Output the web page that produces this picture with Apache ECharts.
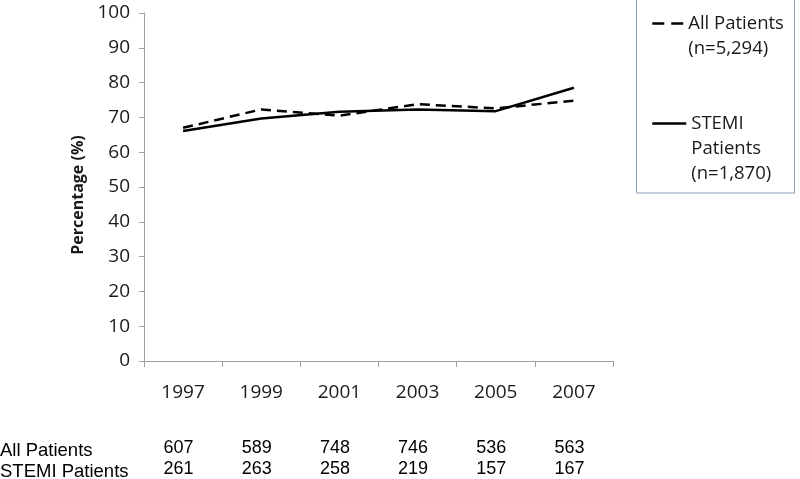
<!DOCTYPE html>
<html>
<head>
<meta charset="utf-8">
<script src="https://cdn.jsdelivr.net/npm/echarts@6/dist/echarts.min.js"></script>
<style>
html,body{margin:0;padding:0;background:#fff;}
#chart{width:800px;height:479px;}
</style>
</head>
<body>
<div id="chart"></div>
<script>
const years = ['1997', '1999', '2001', '2003', '2005', '2007'];
const allPatientsPct = [67.0, 72.3, 70.5, 73.8, 72.6, 74.8];
const stemiPct = [66.1, 69.7, 71.6, 72.3, 71.8, 78.5];
const allPatientsN = [607, 589, 748, 746, 536, 563];
const stemiN = [261, 263, 258, 219, 157, 167];
const rowLabels = ['All Patients', 'STEMI Patients'];
const seriesNames = ['All Patients', 'STEMI Patients'];
const legendTexts = ['\nAll Patients\n(n=5,294)', '\n\nSTEMI\nPatients\n(n=1,870)'];
const yMin = 0, yMax = 100, yStep = 10;

const axisGray = '#a0a0a0';
const textColor = '#1a1a1a';
const uiFont = 'Open Sans';
const tableFont = 'Liberation Sans';

const chart = echarts.init(document.getElementById('chart'), null, {renderer: 'canvas'});

function countAxis(values, offset) {
  return {
    type: 'category',
    data: years,
    position: 'bottom',
    offset: offset,
    boundaryGap: true,
    axisLine: {show: false},
    axisTick: {show: false},
    splitLine: {show: false},
    axisLabel: {
      margin: 0,
      interval: 0,
      fontFamily: tableFont,
      fontSize: 18,
      lineHeight: 20,
      color: '#000',
      padding: [0, 9, 0, 0],
      formatter: (v, i) => String(values[i])
    }
  };
}

const hiddenSymbol = {color: 'rgba(0,0,0,0)', borderColor: 'rgba(0,0,0,0)', borderWidth: 0};

const option = {
  animation: false,
  backgroundColor: '#fff',
  grid: {left: 144, right: 187, top: 13, bottom: 116, containLabel: false},
  xAxis: [
    {
      type: 'category',
      data: years,
      boundaryGap: true,
      axisLine: {lineStyle: {color: axisGray, width: 1}},
      axisTick: {show: true, length: 6, lineStyle: {color: axisGray}},
      axisLabel: {margin: 22, interval: 0, fontFamily: uiFont, fontSize: 19, color: textColor}
    },
    countAxis(allPatientsN, 77),
    countAxis(stemiN, 98)
  ],
  yAxis: {
    type: 'value',
    min: yMin, max: yMax, interval: yStep,
    name: 'Percentage (%)',
    nameLocation: 'middle',
    nameGap: 58,
    nameTextStyle: {fontFamily: uiFont, fontSize: 16, fontWeight: 'bold', color: textColor, padding: [0, 0, 0, -16]},
    axisLine: {show: true, lineStyle: {color: axisGray, width: 1}},
    axisTick: {show: true, length: 5, lineStyle: {color: axisGray}},
    splitLine: {show: false},
    axisLabel: {margin: 14, fontFamily: uiFont, fontSize: 19, color: textColor}
  },
  legend: [
    {
      data: [seriesNames[0]],
      orient: 'vertical',
      left: 651, top: -14,
      padding: 0,
      itemWidth: 31, itemHeight: 14,
      lineStyle: {type: [12, 7], width: 2.5, color: '#000'},
      itemStyle: hiddenSymbol,
      formatter: () => legendTexts[0],
      textStyle: {fontFamily: uiFont, fontSize: 18.5, lineHeight: 25, color: textColor},
      selectedMode: false
    },
    {
      data: [seriesNames[1]],
      orient: 'vertical',
      left: 651, top: 61,
      padding: 0,
      itemWidth: 34, itemHeight: 14,
      lineStyle: {type: 'solid', width: 2.5, color: '#000'},
      itemStyle: hiddenSymbol,
      formatter: () => legendTexts[1],
      textStyle: {fontFamily: uiFont, fontSize: 18.5, lineHeight: 25, color: textColor},
      selectedMode: false
    }
  ],
  graphic: [
    {
      type: 'rect',
      shape: {x: 636.5, y: -2, width: 158, height: 195},
      style: {fill: 'none', stroke: '#8ea0ba', lineWidth: 1},
      silent: true
    },
    {
      type: 'text', left: 0, top: 441,
      style: {text: rowLabels[0], fontFamily: tableFont, fontSize: 18.5, fill: '#000'}
    },
    {
      type: 'text', left: 0, top: 462,
      style: {text: rowLabels[1], fontFamily: tableFont, fontSize: 18.5, fill: '#000'}
    }
  ],
  series: [
    {
      name: seriesNames[0],
      type: 'line',
      data: allPatientsPct,
      showSymbol: false,
      symbol: 'none',
      lineStyle: {color: '#000', width: 2.5, type: [10, 6]},
      itemStyle: {color: '#000'}
    },
    {
      name: seriesNames[1],
      type: 'line',
      data: stemiPct,
      showSymbol: false,
      symbol: 'none',
      lineStyle: {color: '#000', width: 2.5, type: 'solid'},
      itemStyle: {color: '#000'}
    }
  ]
};
chart.setOption(option);
</script>
</body>
</html>
